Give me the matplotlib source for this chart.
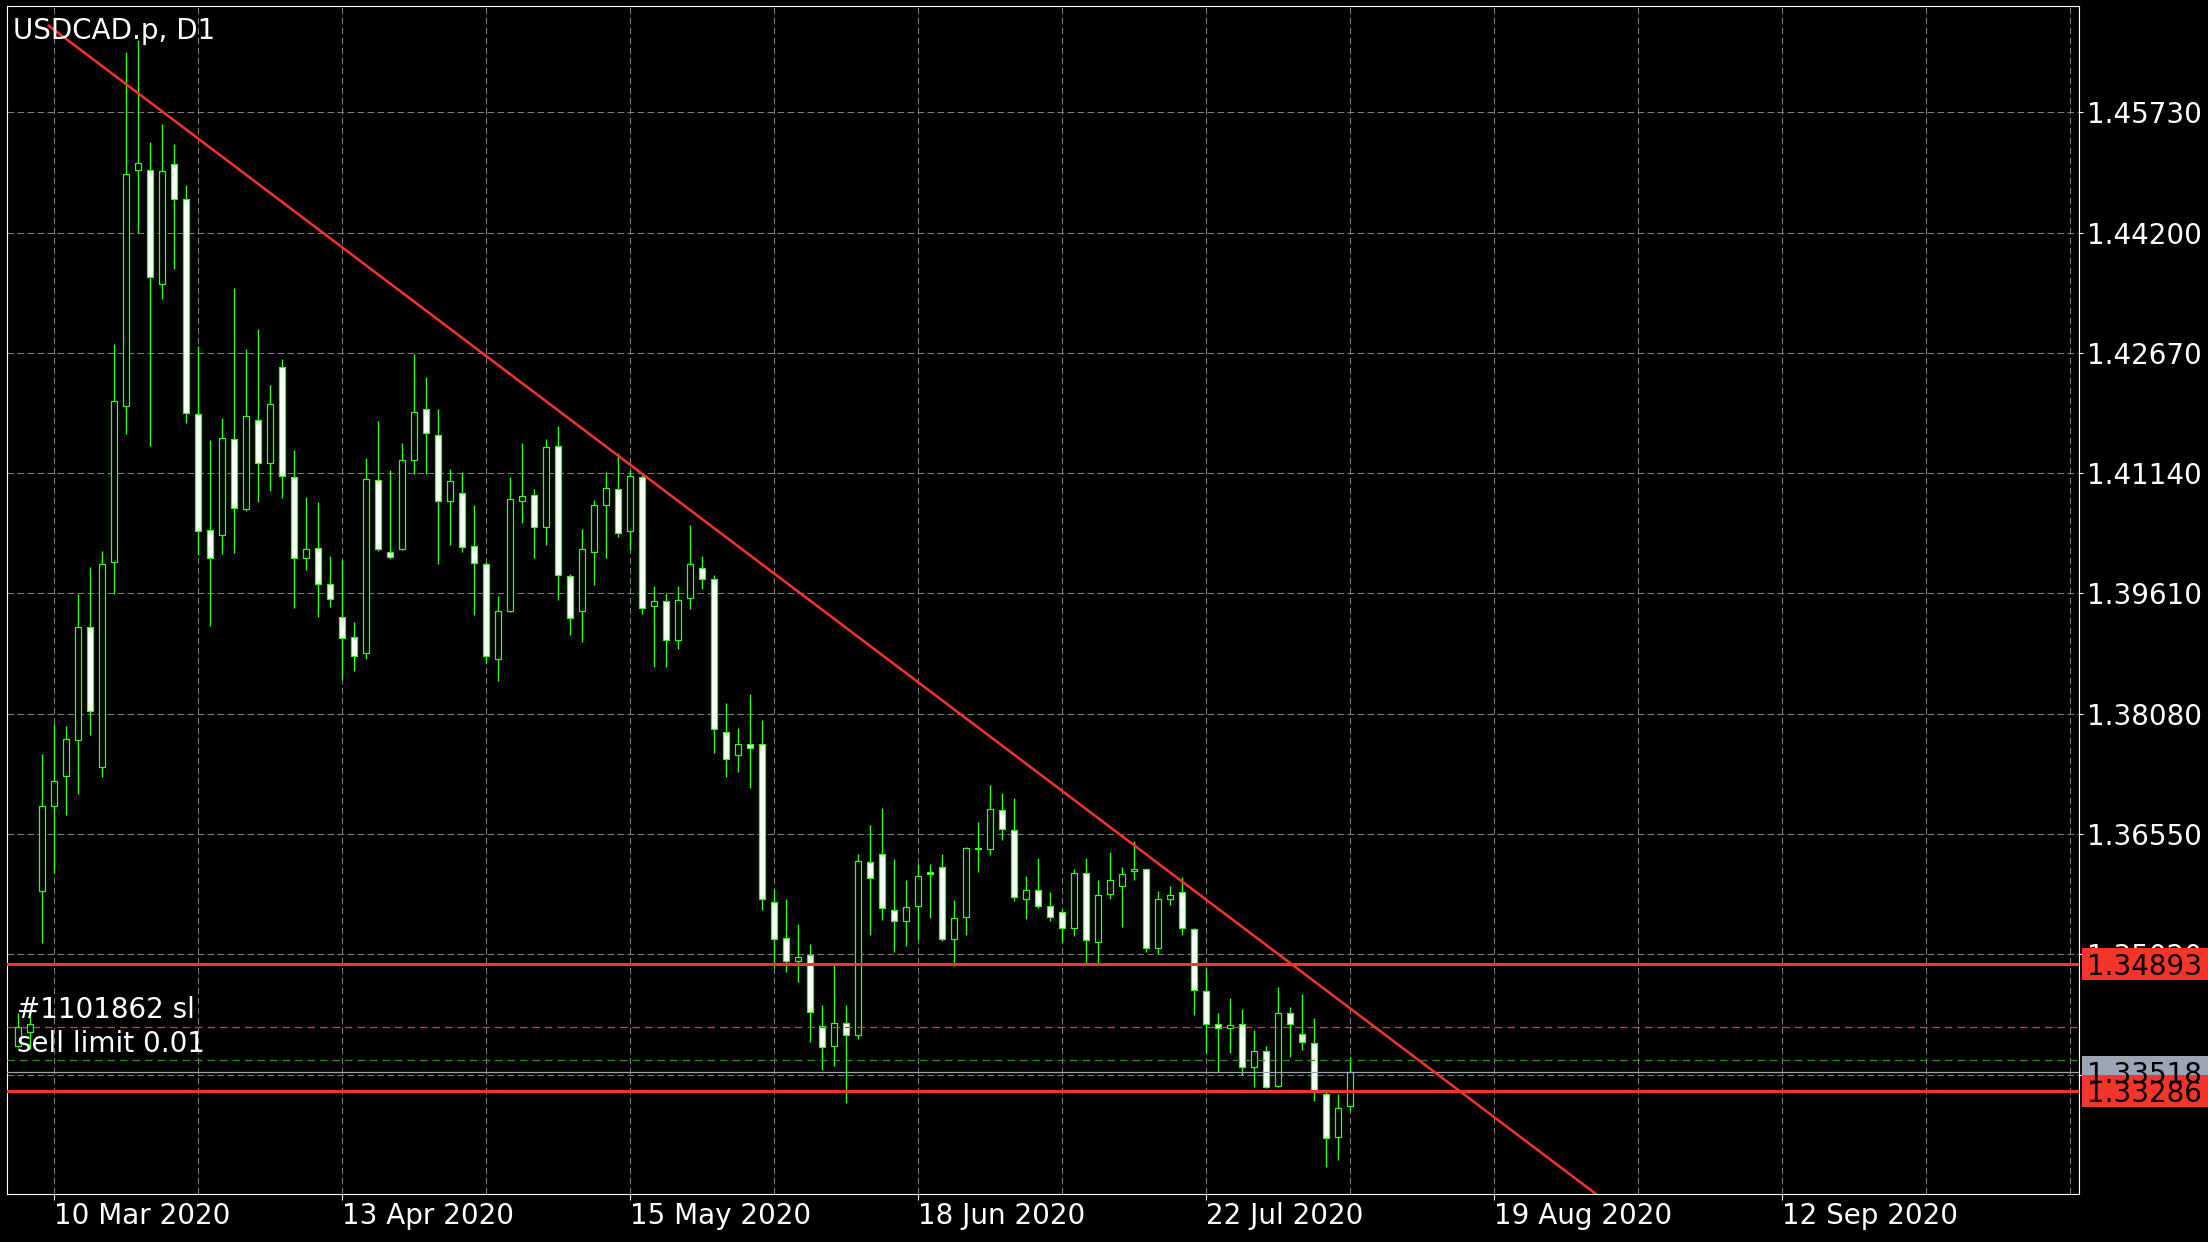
import numpy as np
import matplotlib.pyplot as plt
from matplotlib.patches import Rectangle
from matplotlib.transforms import blended_transform_factory

# USDCAD daily bars, first bar = 5 Mar 2020
opens = [1.3386, 1.3403, 1.3583, 1.3691, 1.3729, 1.3775, 1.3918, 1.3740, 1.4001, 1.4199,
         1.4500, 1.4499, 1.4354, 1.4507, 1.4463, 1.4189, 1.4042, 1.4035, 1.4157, 1.4069,
         1.4182, 1.4127, 1.4249, 1.4109, 1.4006, 1.4019, 1.3973, 1.3931, 1.3905, 1.3885,
         1.4105, 1.4014, 1.4017, 1.4131, 1.4195, 1.4163, 1.4078, 1.4089, 1.4021, 1.3999,
         1.3878, 1.3939, 1.4078, 1.4086, 1.4046, 1.4148, 1.3983, 1.3939, 1.4014, 1.4074,
         1.4094, 1.4041, 1.4109, 1.3945, 1.3952, 1.3902, 1.3955, 1.3993, 1.3979, 1.3785,
         1.3755, 1.3769, 1.3770, 1.3569, 1.3523, 1.3494, 1.3501, 1.3411, 1.3385, 1.3415,
         1.3400, 1.3619, 1.3630, 1.3559, 1.3544, 1.3564, 1.3607, 1.3613, 1.3522, 1.3549,
         1.3636, 1.3636, 1.3685, 1.3660, 1.3573, 1.3584, 1.3563, 1.3556, 1.3535, 1.3605,
         1.3518, 1.3579, 1.3589, 1.3608, 1.3610, 1.3510, 1.3573, 1.3581, 1.3534, 1.3456,
         1.3414, 1.3408, 1.3414, 1.3359, 1.3379, 1.3334, 1.3427, 1.3401, 1.3389, 1.3325,
         1.3270, 1.3309]
highs = [1.3427, 1.3429, 1.3757, 1.3795, 1.3792, 1.3960, 1.3994, 1.4015, 1.4278, 1.4649,
         1.4665, 1.4535, 1.4558, 1.4532, 1.4481, 1.4276, 1.4156, 1.4184, 1.4349, 1.4272,
         1.4297, 1.4226, 1.4259, 1.4144, 1.4084, 1.4077, 1.4008, 1.4003, 1.3925, 1.4133,
         1.4180, 1.4118, 1.4152, 1.4266, 1.4236, 1.4196, 1.4119, 1.4116, 1.4073, 1.4001,
         1.3958, 1.4109, 1.4152, 1.4094, 1.4157, 1.4174, 1.3986, 1.4043, 1.4080, 1.4115,
         1.4140, 1.4118, 1.4112, 1.3970, 1.3961, 1.3970, 1.4048, 1.4008, 1.3984, 1.3822,
         1.3790, 1.3833, 1.3800, 1.3585, 1.3572, 1.3541, 1.3515, 1.3437, 1.3488, 1.3438,
         1.3630, 1.3667, 1.3688, 1.3623, 1.3596, 1.3617, 1.3617, 1.3630, 1.3571, 1.3638,
         1.3670, 1.3718, 1.3707, 1.3701, 1.3602, 1.3625, 1.3581, 1.3560, 1.3610, 1.3625,
         1.3596, 1.3632, 1.3613, 1.3646, 1.3610, 1.3582, 1.3589, 1.3600, 1.3535, 1.3486,
         1.3428, 1.3446, 1.3432, 1.3406, 1.3385, 1.3460, 1.3435, 1.3452, 1.3421, 1.3327,
         1.3324, 1.3372]
lows = [1.3384, 1.3382, 1.3517, 1.3606, 1.3679, 1.3706, 1.3781, 1.3727, 1.3960, 1.4164,
        1.4420, 1.4148, 1.4336, 1.4373, 1.4178, 1.4010, 1.3920, 1.4011, 1.4012, 1.4066,
        1.4077, 1.4091, 1.4082, 1.3943, 1.3991, 1.3931, 1.3944, 1.3851, 1.3862, 1.3877,
        1.4015, 1.4005, 1.4016, 1.4113, 1.4113, 1.3999, 1.4022, 1.4014, 1.3934, 1.3872,
        1.3849, 1.3938, 1.4051, 1.4006, 1.4023, 1.3953, 1.3908, 1.3899, 1.3972, 1.4006,
        1.4033, 1.4016, 1.3935, 1.3867, 1.3868, 1.3890, 1.3941, 1.3967, 1.3758, 1.3727,
        1.3734, 1.3714, 1.3559, 1.3485, 1.3480, 1.3467, 1.3391, 1.3355, 1.3360, 1.3313,
        1.3394, 1.3526, 1.3546, 1.3505, 1.3512, 1.3522, 1.3548, 1.3519, 1.3487, 1.3527,
        1.3607, 1.3628, 1.3648, 1.3570, 1.3547, 1.3561, 1.3545, 1.3518, 1.3525, 1.3491,
        1.3491, 1.3573, 1.3537, 1.3597, 1.3505, 1.3502, 1.3565, 1.3526, 1.3425, 1.3376,
        1.3352, 1.3376, 1.3349, 1.3333, 1.3332, 1.3333, 1.3372, 1.3380, 1.3316, 1.3231,
        1.3241, 1.3303]
closes = [1.3409, 1.3413, 1.3691, 1.3722, 1.3776, 1.3918, 1.3811, 1.3999, 1.4206, 1.4494,
          1.4509, 1.4364, 1.4498, 1.4463, 1.4190, 1.4041, 1.4006, 1.4159, 1.4070, 1.4187,
          1.4127, 1.4202, 1.4110, 1.4006, 1.4018, 1.3973, 1.3954, 1.3904, 1.3882, 1.4106,
          1.4017, 1.4007, 1.4131, 1.4192, 1.4165, 1.4078, 1.4104, 1.4020, 1.4000, 1.3881,
          1.3939, 1.4081, 1.4085, 1.4045, 1.4147, 1.3984, 1.3930, 1.4017, 1.4073, 1.4095,
          1.4038, 1.4110, 1.3943, 1.3951, 1.3902, 1.3953, 1.3998, 1.3979, 1.3789, 1.3751,
          1.3769, 1.3764, 1.3572, 1.3522, 1.3493, 1.3499, 1.3429, 1.3384, 1.3415, 1.3399,
          1.3621, 1.3599, 1.3561, 1.3544, 1.3562, 1.3602, 1.3604, 1.3522, 1.3548, 1.3637,
          1.3637, 1.3687, 1.3661, 1.3575, 1.3584, 1.3564, 1.3549, 1.3536, 1.3605, 1.3520,
          1.3577, 1.3596, 1.3604, 1.3610, 1.3510, 1.3572, 1.3578, 1.3535, 1.3457, 1.3414,
          1.3408, 1.3412, 1.3359, 1.3379, 1.3333, 1.3427, 1.3414, 1.3390, 1.3327, 1.3269,
          1.3306, 1.3352]

# time axis labels (bar number from the first bar)
tick_labels = ["10 Mar 2020", "13 Apr 2020", "15 May 2020", "18 Jun 2020",
               "22 Jul 2020", "19 Aug 2020", "12 Sep 2020"]
label_bars = [3, 27, 51, 75, 99, 123, 147]

price_ticks = [1.45730, 1.44200, 1.42670, 1.41140, 1.39610,
               1.38080, 1.36550, 1.35020, 1.33490]

level_hi = 1.34893      # red horizontal lines
level_lo = 1.33286
bid = 1.33518           # grey bid line
order_sl = 1.3410       # "#1101862 sl"
order_open = 1.3368     # "sell limit 0.01"

# trend line, two anchor points (bar, price)
trend_x = [2.55, 112.5]
trend_y = [1.4683, 1.3416]

W, H = 2208, 1242
GREEN = "#33ff1a"
RED = "#f5352a"
GREY = "#9ba5b4"
GRID = "#7b7b7b"

fig = plt.figure(figsize=(W / 100, H / 100), dpi=100, facecolor="black")
ax = fig.add_axes([7 / W, 48 / H, 2072 / W, 1188 / H], facecolor="black")
ax.set_xlim(-0.925, 171.74)
ax.set_ylim(1.31972, 1.47081)

# grid
for g in np.arange(label_bars[0], 172, 12):
    ax.axvline(g, color=GRID, lw=0.8, ls=(0, (6, 3)), zorder=1)
for p in price_ticks:
    ax.axhline(p, color=GRID, lw=0.8, ls=(0, (6, 3)), zorder=1)

# candles
x = np.arange(len(opens))
ax.vlines(x, lows, highs, color=GREEN, lw=1.0, zorder=2)
for i, (o, c) in enumerate(zip(opens, closes)):
    bull = c >= o
    ax.add_patch(Rectangle((i - 0.22, min(o, c)), 0.44, max(abs(c - o), 0.00008),
                           facecolor="black" if bull else "white",
                           edgecolor=GREEN, lw=0.9, zorder=3))

# order / level lines
ax.axhline(order_sl, color=RED, lw=0.9, ls=(0, (6, 4)), zorder=4)
ax.axhline(order_open, color="#2f8f1f", lw=0.9, ls=(0, (6, 4)), zorder=4)
ax.axhline(bid, color=GREY, lw=0.9, zorder=4)
ax.axhline(level_hi, color=RED, lw=2.2, zorder=5)
ax.axhline(level_lo, color=RED, lw=2.2, zorder=5)

slope = (trend_y[1] - trend_y[0]) / (trend_x[1] - trend_x[0])
tx = np.array([trend_x[0], 170])
ax.plot(tx, trend_y[0] + slope * (tx - trend_x[0]), color=RED, lw=1.8, zorder=5)

# axes styling
for s in ax.spines.values():
    s.set_color("white")
    s.set_linewidth(0.8)
ax.yaxis.tick_right()
ax.set_yticks(price_ticks)
ax.set_yticklabels([f"{p:.5f}" for p in price_ticks])
ax.tick_params(axis="y", colors="white", labelsize=20, length=3, width=0.8, pad=3)
ax.set_xticks(label_bars)
ax.set_xticklabels(tick_labels, ha="left")
ax.tick_params(axis="x", colors="white", labelsize=20, length=4, width=0.8, pad=2)

# price boxes on the right (they cover the axis labels behind them, as in MT4)
trans = blended_transform_factory(fig.transFigure, ax.transData)
box_h = 32 * (1.47081 - 1.31972) / 1188
for lvl, col in [(bid, GREY), (level_hi, RED), (level_lo, RED)]:
    ax.add_patch(Rectangle((2082 / W, lvl - box_h / 2), 126 / W, box_h, transform=trans,
                           facecolor=col, edgecolor="none", clip_on=False, zorder=10))
    ax.text(2087 / W, lvl, f"{lvl:.5f}", transform=trans, color="black", fontsize=20,
            va="center_baseline", ha="left", clip_on=False, zorder=11)

# texts
fig.text(13 / W, 1 - 39 / H, "USDCAD.p, D1", color="white", fontsize=20, va="baseline")
fig.text(17 / W, 1 - 1018.5 / H, "#1101862 sl", color="white", fontsize=20, va="baseline")
fig.text(17 / W, 1 - 1052 / H, "sell limit 0.01", color="white", fontsize=20, va="baseline")

fig.savefig("out.png", dpi=100, facecolor="black")
